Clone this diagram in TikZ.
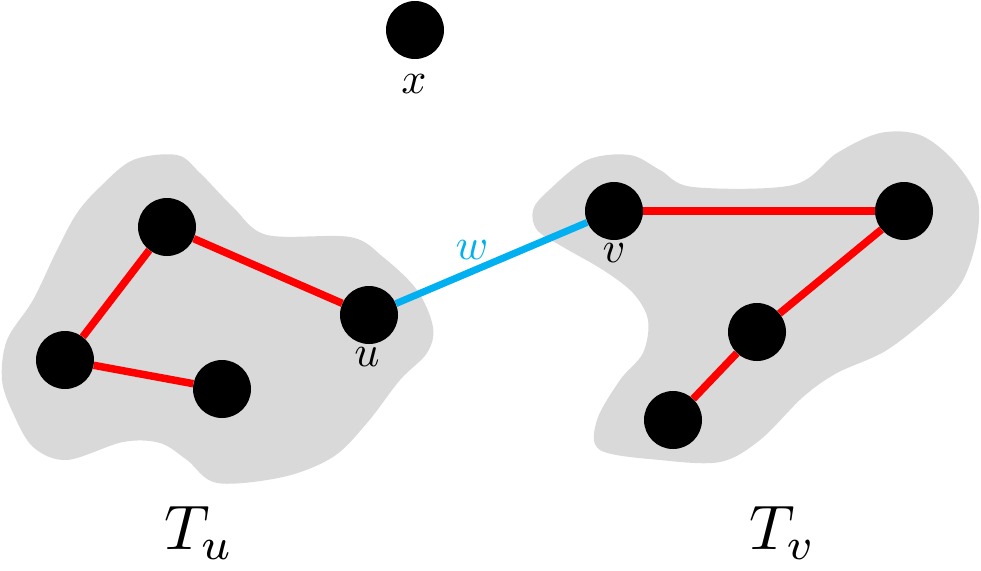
\documentclass[tikz,border=0pt]{standalone}
\usepackage{graphicx}
\usepackage{xcolor}
\definecolor{treegray}{RGB}{217,217,217}
\definecolor{edgered}{RGB}{255,0,0}
\definecolor{edgeblue}{RGB}{0,176,240}
\newcommand{\vlbl}[1]{\scalebox{4.4}{$#1$}}
\newcommand{\tlbl}[1]{\scalebox{6.3}{$#1$}}
\begin{document}
\begin{tikzpicture}[x=1pt,y=1pt,yscale=-1,xscale=1,
    vtx/.style={circle,fill=black,minimum size=58pt,inner sep=0pt},
    treeedge/.style={draw=edgered,line width=7.5pt},
    cutedge/.style={draw=edgeblue,line width=7pt},
    lbl/.style={inner sep=0pt}]
    \useasboundingbox (0,0) rectangle (981,570);

    %Shape: Blob [left tree]
    \fill [treegray] plot [smooth cycle,tension=0.55] coordinates {
        (100,187) (133,160) (177,155) (200,173) (233,207) (267,235) (350,237)
        (383,257) (417,290) (433,327) (427,353) (400,380) (367,423) (333,457)
        (283,477) (217,483) (187,460) (160,443) (123,442) (67,460) (33,447)
        (13,413) (2,380) (7,340) (33,300) (57,250) (77,213)};
    %Shape: Blob [right tree]
    \fill [treegray] plot [smooth cycle,tension=0.55] coordinates {
        (533,210) (547,192) (587,160) (630,155) (660,170) (693,187) (793,185)
        (837,153) (880,133) (920,135) (953,160) (977,197) (977,237) (963,280)
        (937,310) (887,350) (837,373) (803,397) (760,440) (720,462) (660,460)
        (600,450) (597,420) (620,380) (643,353) (648,320) (633,293) (603,270)
        (563,247) (537,230)};

    % Vertices
    \node [vtx] (x) at (415,30) {};
    \node [vtx] (a) at (167,227) {};
    \node [vtx] (b) at (65,360) {};
    \node [vtx] (c) at (222,389) {};
    \node [vtx] (u) at (369,315) {};
    \node [vtx] (v) at (614,211) {};
    \node [vtx] (d) at (904,211) {};
    \node [vtx] (e) at (757,332) {};
    \node [vtx] (f) at (673,420) {};

    % Edges
    \draw [treeedge] (a) -- (b);
    \draw [treeedge] (b) -- (c);
    \draw [treeedge] (a) -- (u);
    \draw [treeedge] (v) -- (d);
    \draw [treeedge] (d) -- (e);
    \draw [treeedge] (e) -- (f);
    \draw [cutedge] (u) -- (v);

    % Text Node
    \node [lbl] (lx) at (414,84) {\vlbl{x}};
    \node [lbl] (lu) at (367,357) {\vlbl{u}};
    \node [lbl] (lv) at (614,253) {\vlbl{v}};
    \node [lbl,text=edgeblue] (lw) at (472,250) {\vlbl{w}};
    \node [lbl] (tu) at (199,533) {\tlbl{T_u}};
    \node [lbl] (tv) at (783,533) {\tlbl{T_v}};
\end{tikzpicture}
\end{document}
